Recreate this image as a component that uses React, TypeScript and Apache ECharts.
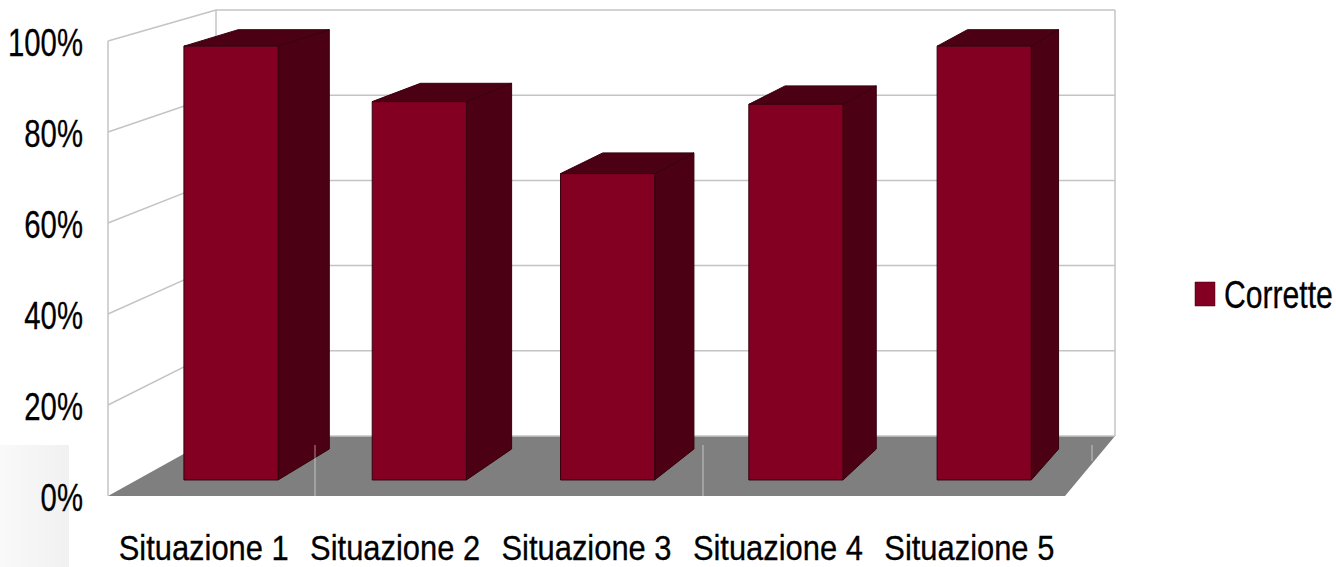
import React, { useEffect, useRef } from "react";
import * as echarts from "echarts";

const categories = ["Situazione 1", "Situazione 2", "Situazione 3", "Situazione 4", "Situazione 5"];
const seriesName = "Corrette";
const corrette = [97, 84.6, 68.5, 84, 97];
const axisTicks = [0, 20, 40, 60, 80, 100];

const FONT = '"Liberation Sans", Arial, sans-serif';
const FONT_SIZE = 39;
const CATEGORY_FONT_SIZE = 35;
const FRONT = "#830023";
const DARK = "#4b0013";
const EDGE = "#36000e";
const FLOOR = "#7f7f7f";
const GRID = "#c4c4c4";

// depth of the box: how far the back plane shifts from the front plane
const DEPTH = { left: 108, right: 50, bottom: -60, top: -31 };
const BAR_NEAR = 0.267;
const BAR_FAR = 0.783;
const BAR_HALF = 0.25;

function projector(cs: any) {
  return (u: number, f: number, t: number): number[] => {
    const xL = cs.x + DEPTH.left * t;
    const xR = cs.x + cs.width + DEPTH.right * t;
    const yB = cs.y + cs.height + DEPTH.bottom * t;
    const yT = cs.y + DEPTH.top * t;
    return [xL + (xR - xL) * u, yB + (yT - yB) * f];
  };
}

function renderWall(params: any, api: any) {
  const cs = params.coordSys;
  const project = projector(cs);
  const tick = api.value(1);
  const y = api.coord([0, tick])[1];
  const f = (cs.y + cs.height - y) / cs.height;
  const a = project(0, f, 0);
  const b = project(0, f, 1);
  const c = project(1, f, 1);
  const lineStyle = { stroke: GRID, lineWidth: 1.5, fill: "none" };
  const children: any[] = [];
  if (params.dataIndex === 0) {
    children.push({
      type: "polygon",
      shape: { points: [project(0, 0, 0), project(0, 0, 1), project(1, 0, 1), project(1, 0, 0)] },
      style: { fill: FLOOR, stroke: "none" },
    });
    children.push({
      type: "polyline",
      shape: { points: [project(0, 1, 0), project(0, 0, 0)] },
      style: lineStyle,
    });
    children.push({
      type: "polyline",
      shape: { points: [project(0, 1, 1), project(0, 0, 1)] },
      style: lineStyle,
    });
    children.push({
      type: "polyline",
      shape: { points: [project(1, 1, 1), project(1, 0, 1)] },
      style: lineStyle,
    });
  }
  if (tick > 0) {
    children.push({ type: "polyline", shape: { points: [a, b] }, style: lineStyle });
  }
  children.push({ type: "polyline", shape: { points: [b, c] }, style: lineStyle });
  return { type: "group", children };
}

function renderBar(params: any, api: any) {
  const cs = params.coordSys;
  const project = projector(cs);
  const i = api.value(0);
  const p = api.coord([i, api.value(1)]);
  const band = api.size([1, 0])[0];
  const uL = (p[0] - BAR_HALF * band - cs.x) / cs.width;
  const uR = (p[0] + BAR_HALF * band - cs.x) / cs.width;
  const f = (cs.y + cs.height - p[1]) / cs.height;
  const nl0 = project(uL, 0, BAR_NEAR);
  const nr0 = project(uR, 0, BAR_NEAR);
  const nl1 = project(uL, f, BAR_NEAR);
  const nr1 = project(uR, f, BAR_NEAR);
  const fl1 = project(uL, f, BAR_FAR);
  const fr1 = project(uR, f, BAR_FAR);
  const fr0 = project(uR, 0, BAR_FAR);
  const edge = { stroke: EDGE, lineWidth: 1, lineJoin: "round" };
  return {
    type: "group",
    children: [
      { type: "polygon", shape: { points: [nr0, fr0, fr1, nr1] }, style: { fill: DARK, ...edge } },
      { type: "polygon", shape: { points: [nl1, nr1, fr1, fl1] }, style: { fill: DARK, ...edge } },
      { type: "polygon", shape: { points: [nl0, nr0, nr1, nl1] }, style: { fill: FRONT, ...edge } },
    ],
  };
}

function labelText(text: string, x: number, y: number, size: number, scaleX: number, align: string) {
  return {
    type: "text",
    x,
    y,
    scaleX,
    silent: true,
    style: {
      text,
      fontFamily: FONT,
      fontSize: size,
      fill: "#000000",
      stroke: "#000000",
      lineWidth: 0.3,
      align,
      verticalAlign: "middle",
    },
  };
}

function renderValueLabel(params: any, api: any) {
  const cs = params.coordSys;
  const tick = api.value(1);
  const y = api.coord([0, tick])[1];
  return labelText(tick + "%", cs.x - 25, y + 1, FONT_SIZE, 0.752, "right");
}

function renderCategoryLabel(params: any, api: any) {
  const i = api.value(0);
  const p = api.coord([i, 0]);
  return labelText(categories[i], p[0], p[1] + 52, CATEGORY_FONT_SIZE, 0.883, "center");
}

export default function App() {
  const ref = useRef<HTMLDivElement>(null);
  useEffect(() => {
    const chart = echarts.init(ref.current!, null, { renderer: "svg" });
    const seam = (x: number, y1: number, y2: number) => ({
      type: "line",
      z: 100,
      silent: true,
      shape: { x1: x, y1, x2: x, y2 },
      style: { stroke: "#ffffff", lineWidth: 1, opacity: 0.55 },
    });
    chart.setOption({
      animation: false,
      backgroundColor: "#ffffff",
      textStyle: { fontFamily: FONT },
      grid: { left: 108, top: 41, width: 957, height: 455, outerBoundsMode: "none" },
      xAxis: {
        type: "category",
        data: categories,
        axisLine: { show: false },
        axisTick: { show: false },
        splitLine: { show: false },
        axisLabel: { show: false },
      },
      yAxis: {
        type: "value",
        min: 0,
        max: 100,
        interval: 20,
        axisLine: { show: false },
        axisTick: { show: false },
        splitLine: { show: false },
        axisLabel: { show: false },
      },
      graphic: [
        {
          type: "rect",
          z: 0,
          silent: true,
          shape: { x: 0, y: 445, width: 69, height: 122 },
          style: {
            fill: new echarts.graphic.LinearGradient(0, 0, 1, 0, [
              { offset: 0, color: "#f9f9f9" },
              { offset: 1, color: "#f1f1f1" },
            ]),
          },
        },
        seam(315, 445, 496),
        seam(703, 445, 496),
        seam(1092, 445, 461),
        {
          type: "rect",
          z: 10,
          silent: true,
          shape: { x: 1195, y: 282, width: 20, height: 24 },
          style: { fill: FRONT, stroke: EDGE, lineWidth: 0.5 },
        },
        {
          type: "text",
          z: 10,
          x: 1224,
          y: 294,
          scaleX: 0.773,
          silent: true,
          style: {
            text: seriesName,
            fontFamily: FONT,
            fontSize: FONT_SIZE,
            fill: "#000000",
            stroke: "#000000",
            lineWidth: 0.3,
            align: "left",
            verticalAlign: "middle",
          },
        },
      ],
      series: [
        {
          type: "custom",
          name: "walls",
          z: 1,
          silent: true,
          renderItem: renderWall,
          encode: { x: 0, y: 1 },
          data: axisTicks.map((t) => [0, t]),
        },
        {
          type: "custom",
          name: seriesName,
          z: 3,
          itemStyle: { color: FRONT },
          renderItem: renderBar,
          encode: { x: 0, y: 1 },
          data: corrette.map((v, i) => [i, v]),
        },
        {
          type: "custom",
          name: "valueLabels",
          z: 4,
          silent: true,
          renderItem: renderValueLabel,
          encode: { x: 0, y: 1 },
          data: axisTicks.map((t) => [0, t]),
        },
        {
          type: "custom",
          name: "categoryLabels",
          z: 4,
          silent: true,
          renderItem: renderCategoryLabel,
          encode: { x: 0, y: 1 },
          data: categories.map((_, i) => [i, 0]),
        },
      ],
    });
    return () => chart.dispose();
  }, []);
  return (
    <div
      ref={ref}
      style={{ position: "absolute", left: 0, top: 0, width: 1336, height: 567 }}
    />
  );
}
